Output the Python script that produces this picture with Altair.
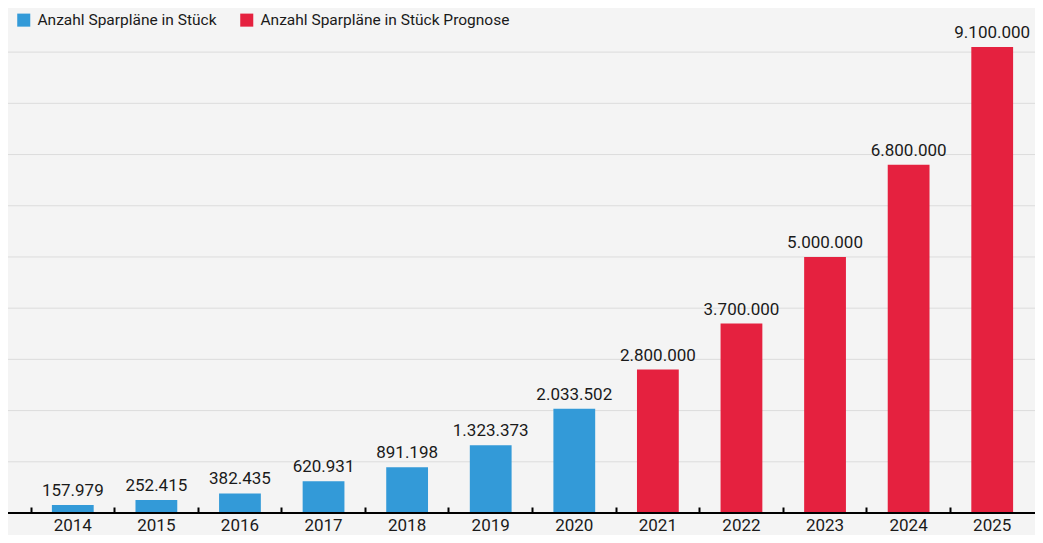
import altair as alt
import pandas as pd

years = ["2014", "2015", "2016", "2017", "2018", "2019", "2020",
         "2021", "2022", "2023", "2024", "2025"]
values = [157979, 252415, 382435, 620931, 891198, 1323373, 2033502,
          2800000, 3700000, 5000000, 6800000, 9100000]
S1 = "Anzahl Sparpläne in Stück"
S2 = "Anzahl Sparpläne in Stück Prognose"
series = [S1] * 7 + [S2] * 5
grid_values = [1000000, 2000000, 3000000, 4000000, 5000000,
               6000000, 7000000, 8000000, 9000000]

labels = [f"{v:,}".replace(",", ".") for v in values]

df = pd.DataFrame({"year": years, "value": values, "series": series, "label": labels})
grid_df = pd.DataFrame({"v": grid_values})
base_df = pd.DataFrame({"v": [0]})

W, H = 1003, 466
FONT = "Roboto, sans-serif"
BLUE = "#339ad8"
RED = "#e5213f"

yscale = alt.Scale(domain=[0, 9100000], nice=False, zero=True)
xscale = alt.Scale(paddingInner=0, paddingOuter=0)

grid = alt.Chart(grid_df).mark_rule(color="#dcdcdc", strokeWidth=1).encode(
    y=alt.Y("v:Q", scale=yscale, axis=None),
    x=alt.value(-23),
    x2=alt.value(W + 1),
)

bars = alt.Chart(df).mark_bar(width=alt.RelativeBandSize(0.5)).encode(
    x=alt.X("year:O", scale=xscale, sort=years,
            axis=alt.Axis(orient="bottom", title=None, ticks=False, domain=False,
                          labelAngle=0, labelFontSize=17, labelFont=FONT,
                          labelColor="#1a1a1a", labelPadding=4)),
    y=alt.Y("value:Q", scale=yscale, axis=None),
    color=alt.Color("series:N",
                    scale=alt.Scale(domain=[S1, S2], range=[BLUE, RED]),
                    legend=alt.Legend(orient="none", legendX=-15, legendY=-35,
                                      direction="horizontal", title=None,
                                      symbolType="square", symbolSize=170,
                                      symbolStrokeWidth=0, labelFontSize=15.5,
                                      labelFont=FONT, labelColor="#1a1a1a",
                                      labelLimit=0, columnPadding=22,
                                      labelOffset=6)),
)

text = alt.Chart(df).mark_text(baseline="bottom", dy=-5, fontSize=17, font=FONT,
                               color="#1a1a1a").encode(
    x=alt.X("year:O", scale=xscale, sort=years,
            axis=alt.Axis(orient="top", offset=-H, title=None, labels=False,
                          domain=False, ticks=True, tickSize=6, tickWidth=2,
                          tickColor="#000000", bandPosition=0, grid=False)),
    y=alt.Y("value:Q", scale=yscale, axis=None),
    text="label:N",
)

baseline = alt.Chart(base_df).mark_rule(color="#000000", strokeWidth=2).encode(
    y=alt.Y("v:Q", scale=yscale, axis=None),
    x=alt.value(-23),
    x2=alt.value(W + 1),
)

chart = alt.layer(grid, bars, text, baseline).resolve_axis(x="independent").properties(
    width=W, height=H,
    background="#f4f4f4",
    autosize=alt.AutoSizeParams(type="none"),
    padding={"left": 23, "top": 39, "right": 1, "bottom": 22},
).configure_view(stroke=None)

chart.save("out.html", embed_options={"renderer": "svg", "actions": False})
